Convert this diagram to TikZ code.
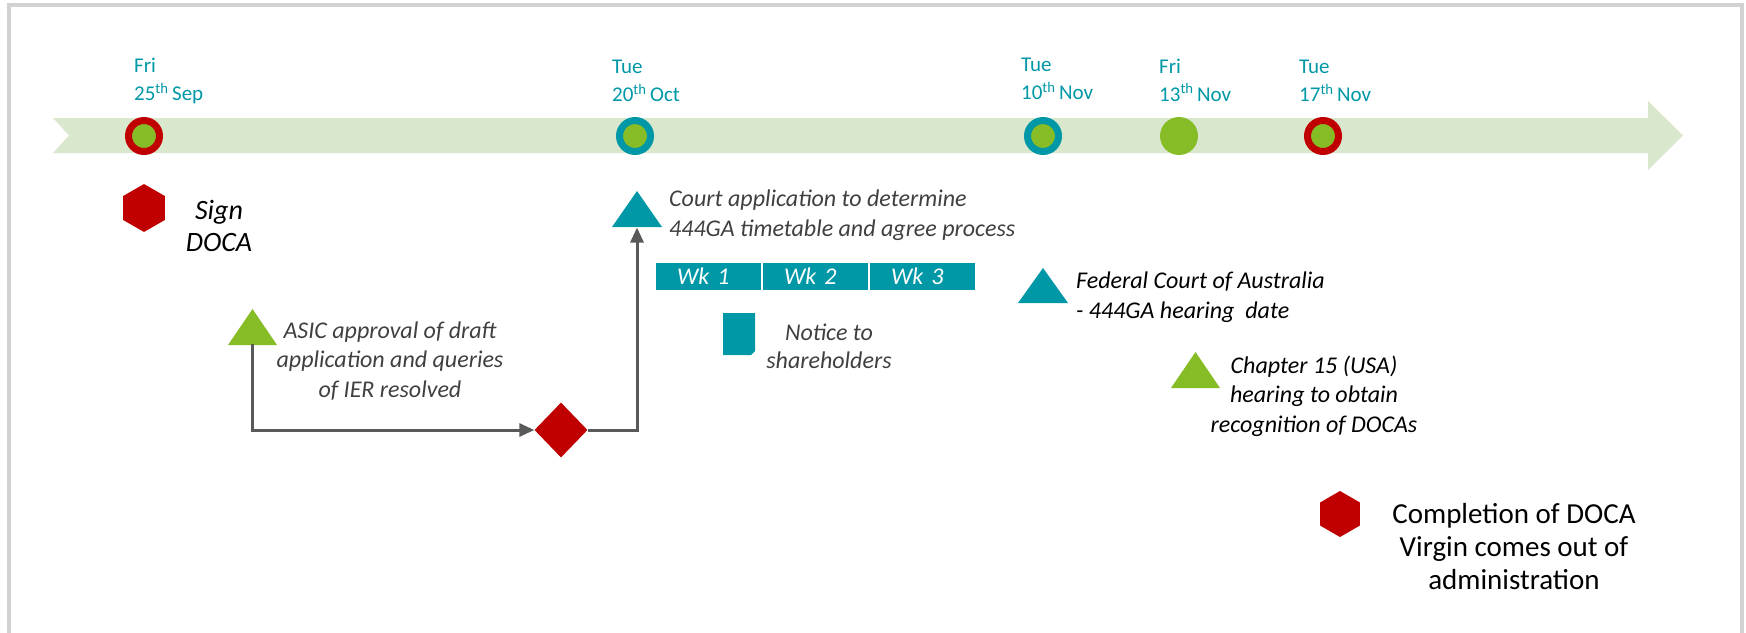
\documentclass[tikz,border=0pt]{standalone}
\usepackage{fontspec}
\setmainfont{Carlito}
\usetikzlibrary{shapes.geometric,arrows.meta,calc}
\definecolor{tealc}{HTML}{0098A6}
\definecolor{redc}{HTML}{C00000}
\definecolor{greenc}{HTML}{86BC25}
\definecolor{bandc}{HTML}{D9E7CD}
\definecolor{linec}{HTML}{595959}
\definecolor{grayt}{HTML}{404040}
\definecolor{framec}{HTML}{D2D2D2}
\begin{document}
\begin{tikzpicture}[x=1pt,y=-1pt,
  datelbl/.style={anchor=west, align=left, inner sep=0, text=tealc, font=\fontsize{21}{28}\selectfont},
  ring/.style={circle, minimum size=31, inner sep=0, fill=greenc, line width=7},
  dot/.style={circle, minimum size=38, inner sep=0, fill=greenc},
  graytxt/.style={inner sep=0, text=grayt, font=\fontsize{24}{29.5}\selectfont\itshape},
  blacktxt/.style={inner sep=0, text=black, font=\fontsize{24}{29.5}\selectfont\itshape},
  hexa/.style={regular polygon, regular polygon sides=6, shape border rotate=30, fill=redc, inner sep=0},
  wkbox/.style={fill=tealc, minimum height=27, text width=105, inner sep=0, align=left, text=white, font=\fontsize{24}{24}\selectfont\itshape},
  conn/.style={draw=linec, line width=3, -{Triangle[length=15,width=13]}},
]
\useasboundingbox (0,0) rectangle (1746,632);
% frame
\draw[framec, line width=4] (9,660) -- (9,5) -- (1742,5) -- (1742,660);
% timeline band
\fill[bandc] (53,118) -- (1648,118) -- (1648,101) -- (1683,135.5) -- (1648,170) -- (1648,153) -- (53,153) -- (69,135.5) -- cycle;
% milestones
\node[ring, draw=redc] (m1) at (144,136) {};
\node[ring, draw=tealc] (m2) at (635,136) {};
\node[ring, draw=tealc] (m3) at (1043,136) {};
\node[dot] (m4) at (1179,136) {};
\node[ring, draw=redc] (m5) at (1323,136) {};
% dates
\node[datelbl] (d1) at (134,81) {Fri\\25\textsuperscript{th}\,Sep};
\node[datelbl] (d2) at (612,81) {Tue\\20\textsuperscript{th}\,Oct};
\node[datelbl] (d3) at (1021,79) {Tue\\10\textsuperscript{th}\,Nov};
\node[datelbl] (d4) at (1159,80) {Fri\\13\textsuperscript{th}\,Nov};
\node[datelbl] (d5) at (1299,81) {Tue\\17\textsuperscript{th}\,Nov};
% Sign DOCA
\node[hexa, minimum size=48] (h1) at (144,208) {};
\node[inner sep=0, align=center, font=\fontsize{28}{32}\selectfont\itshape] (t1) at (219,226) {Sign\\DOCA};
% triangles
\fill[tealc] (612,227) -- (662,227) -- (637,191) -- cycle;
\coordinate (courtTri) at (637,227.5);
\fill[greenc] (228,345) -- (277,345) -- (252.5,309) -- cycle;
\coordinate (asicTri) at (252.5,344);
\fill[tealc] (1018,303) -- (1068,303) -- (1043,268) -- cycle;
\fill[greenc] (1171,388) -- (1220,388) -- (1195.5,352) -- cycle;
% texts
\node[graytxt, anchor=west, align=left] (court) at (669,215) {Court application to determine\\444GA timetable and agree process};
\node[graytxt, align=center] (asic) at (390,361) {ASIC approval of draft\\application and queries\\of IER resolved};
\node[graytxt, align=center, font=\fontsize{24}{28}\selectfont\itshape] (notice) at (829,346) {Notice to\\shareholders};
\node[blacktxt, anchor=west, align=left, font=\fontsize{24}{30}\selectfont\itshape] (fed) at (1076,297) {Federal Court of Australia\\- 444GA hearing~ date};
\node[blacktxt, align=center] (chap) at (1314,396) {Chapter 15 (USA)\\hearing to obtain\\recognition of DOCAs};
\node[hexa, minimum size=46] (h2) at (1340,514) {};
\node[inner sep=0, align=center, font=\fontsize{29}{33}\selectfont] (comp) at (1514,547) {Completion of DOCA\\Virgin comes out of\\administration};
% weeks
\node[wkbox] (w1) at (708.5,276.5) {\hspace*{21pt}Wk 1};
\node[wkbox] (w2) at (815.5,276.5) {\hspace*{21pt}Wk 2};
\node[wkbox] (w3) at (922.5,276.5) {\hspace*{21pt}Wk 3};
% notice icon
\fill[tealc] (723,313) -- (755,313) -- (755,351) -- (751,355) -- (723,355) -- cycle;
% diamond and connectors
\node[diamond, fill=redc, minimum width=53, minimum height=55, inner sep=0] (dia) at (561,430) {};
\draw[conn] (asicTri) |- (dia.west);
\draw[conn] (dia.east) -| (courtTri);
\end{tikzpicture}
\end{document}
